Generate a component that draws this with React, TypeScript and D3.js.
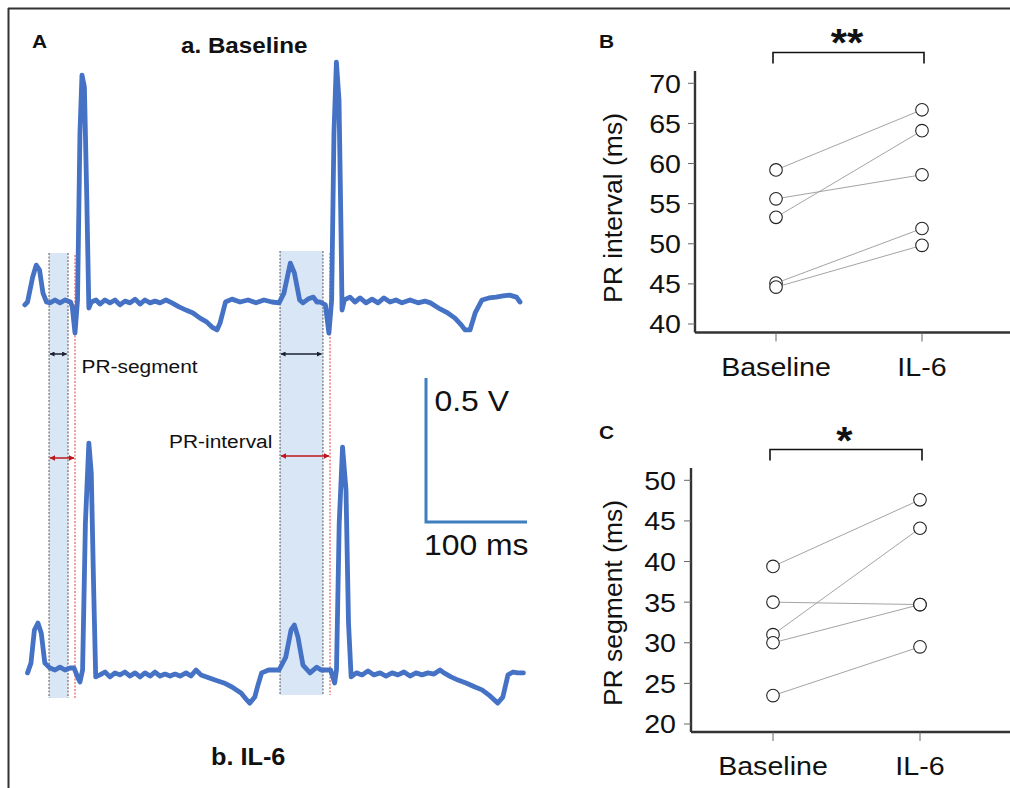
import React from "react";
import * as d3 from "d3";

// ---------- data ----------
const groups = ["Baseline", "IL-6"];
const prIntervalBaseline = [59.2, 55.6, 53.3, 45.1, 44.6];
const prIntervalIL6 = [66.7, 58.6, 64.1, 51.9, 49.8];
const prSegmentBaseline = [39.4, 35.0, 31.0, 30.0, 23.5];
const prSegmentIL6 = [47.6, 34.7, 44.1, 34.7, 29.5];
const prIntervalTicks = [40, 45, 50, 55, 60, 65, 70];
const prSegmentTicks = [20, 25, 30, 35, 40, 45, 50];

// ECG traces: [time (ms), voltage (V)]
const baselineTrace: [number, number][] = [
  [0.8, -0.01], [3.5, 0], [8.6, 0.087], [12.1, 0.128], [15.4, 0.111], [18.8, 0.031], [22.3, 0],
  [25.7, -0.003], [30.7, 0.007], [35.6, -0.003], [40.6, 0.007], [46.1, 0], [47.8, -0.017],
  [50.5, -0.108], [53, 0.007], [55.4, 0.587], [57.4, 0.788], [59.8, 0.747], [62.2, 0.354],
  [64.2, -0.021], [66.6, 0], [71.3, 0.007], [75.2, -0.007], [80.2, 0.007], [85.1, -0.003],
  [90.1, 0.007], [95, -0.01], [100, 0.003], [105, -0.003], [110, 0.01], [114.9, -0.007],
  [119.8, 0.007], [124.8, -0.003], [129.7, 0.003], [134.7, -0.003], [140.6, 0.007], [146.5, -0.003],
  [153.5, -0.017], [160.4, -0.028], [167.3, -0.038], [174.3, -0.056], [180.8, -0.069],
  [186.1, -0.087], [191.1, -0.097], [194.1, -0.073], [199.5, 0], [205.9, 0.01], [213.9, 0],
  [221.8, 0.007], [229.7, -0.003], [237.6, 0.007], [245.5, 0], [252.5, -0.003], [257.4, 0.031],
  [263.7, 0.135], [267.7, 0.101], [272.9, 0.007], [276.2, -0.003], [281.2, 0.01], [286.5, 0.017],
  [290, 0], [293.1, 0], [298.4, -0.01], [301.9, -0.108], [304.6, 0.007], [306.9, 0.587],
  [309.3, 0.833], [311.9, 0.701], [313.9, 0.24], [314.9, -0.028], [317.2, 0.007], [322.8, 0.017],
  [327.7, 0], [332.7, 0.014], [338.6, -0.003], [344.6, 0.01], [350.5, -0.003], [356.4, 0.014],
  [362.4, 0], [368.3, 0.007], [374.3, -0.003], [382.2, 0.007], [390.1, -0.003], [397, 0.003],
  [402.4, -0.003], [411.9, -0.024], [419.5, -0.038], [426.7, -0.056], [433.1, -0.08],
  [436.6, -0.097], [441.6, -0.097], [446.7, -0.038], [453.5, 0.007], [460.4, 0.014],
  [467.3, 0.017], [474.3, 0.021], [480.8, 0.024], [487.6, 0.017], [491.1, 0],
];

const il6Trace: [number, number][] = [
  [3.5, -0.01], [6.9, 0.024], [10.3, 0.139], [13.8, 0.163], [17.1, 0.128], [20.6, 0.024],
  [25.7, 0.007], [30.7, 0], [35.6, 0.01], [40.6, 0], [45.5, 0.007], [49.5, 0.007], [53, -0.024],
  [55.4, -0.042], [58, 0], [60.8, 0.51], [64.2, 0.788], [66.6, 0.684], [69, 0.278], [71, -0.024],
  [75.2, -0.017], [80.2, -0.007], [85.1, -0.024], [90.1, -0.01], [95, -0.017], [100, -0.007],
  [105, -0.021], [110, -0.01], [114.9, -0.024], [119.8, -0.01], [124.8, -0.021], [129.7, -0.007],
  [134.7, -0.021], [139.6, -0.014], [144.6, -0.021], [149.5, -0.014], [154.5, -0.021],
  [160.4, -0.01], [165.3, -0.021], [170.3, 0], [175.2, -0.017], [180.8, -0.024], [189.1, -0.035],
  [198, -0.045], [205.9, -0.059], [214.9, -0.08], [219.8, -0.101], [223.5, -0.115], [228.5, -0.094],
  [231.7, -0.052], [235.3, -0.01], [242.2, 0], [252.5, 0], [259.2, 0.045], [264.4, 0.139],
  [267.7, 0.156], [271.2, 0.115], [276.2, 0.017], [283.2, -0.01], [289.9, 0.01], [294.1, 0],
  [298.4, 0], [303.6, 0], [307.6, -0.045], [309.4, 0], [312.1, 0.51], [315.4, 0.774],
  [318.8, 0.625], [321.3, 0.163], [323.9, -0.024], [329.1, -0.01], [334.7, -0.017],
  [340.6, -0.003], [346.5, -0.017], [352.5, -0.01], [358.4, -0.021], [364.4, -0.01],
  [370.3, -0.017], [376.2, -0.007], [382.2, -0.021], [388.1, -0.01], [394.1, -0.017], [400, -0.01],
  [405.9, -0.014], [411.9, 0], [415.8, -0.01], [422.8, -0.024], [429.7, -0.035], [437.6, -0.045],
  [446.5, -0.059], [453.5, -0.069], [460.4, -0.087], [468.9, -0.115], [474.1, -0.094],
  [479.2, -0.017], [484.2, -0.007], [489.1, -0.01], [494.5, -0.01],
];

// PR windows (ms): P onset, P end, Q onset
const prWindows = [
  { pStart: 24.8, pEnd: 43.6, qOnset: 50.5 },
  { pStart: 253.5, pEnd: 296, qOnset: 303 },
];
const scaleBarMs = 100;
const scaleBarV = 0.5;

// ---------- styles ----------
const FONT = "'Liberation Sans', Arial, Helvetica, sans-serif";
const ECG_BLUE = "#4472c4";
const BAR_BLUE = "#3f7fc0";
const AXIS = "#333";
const SX = 1.1;

function SText({ x, y, size, children, anchor = "start", weight = "normal", dy = "0" }: any) {
  return (
    <text
      transform={`translate(${x},${y}) scale(${SX},1)`}
      fontSize={size}
      fontFamily={FONT}
      fontWeight={weight}
      textAnchor={anchor}
      dy={dy}
      fill="#111"
    >
      {children}
    </text>
  );
}

function PairedPanel({ yScale, xScale, ticks, base, il6, axisX, axisTop, axisY, labelRight, ylabel, ylabelY, stars, bracketTop, starsY, letter, letterY }: any) {
  const [g0, g1] = groups;
  return (
    <g>
      <SText x={599} y={letterY} size={19} weight="bold">{letter}</SText>
      {/* significance bracket */}
      <path
        d={`M${xScale(g0) - 3},${bracketTop + 11} V${bracketTop} H${xScale(g1) + 2} V${bracketTop + 11}`}
        fill="none"
        stroke="#111"
        strokeWidth={1.6}
      />
      <SText x={(xScale(g0) + xScale(g1)) / 2 - 2} y={starsY} size={38} weight="bold" anchor="middle">{stars}</SText>
      {/* axes */}
      <line x1={axisX} x2={axisX} y1={axisTop} y2={axisY} stroke={AXIS} strokeWidth={2.4} />
      <line x1={axisX} x2={1010} y1={axisY} y2={axisY} stroke={AXIS} strokeWidth={2.4} />
      {ticks.map((t: number) => (
        <g key={t}>
          <line x1={axisX - 7} x2={axisX} y1={yScale(t)} y2={yScale(t)} stroke="#666" strokeWidth={1} />
          <SText x={labelRight} y={yScale(t)} size={26} anchor="end" dy="0.36em">{t}</SText>
        </g>
      ))}
      {groups.map((g) => (
        <g key={g}>
          <line x1={xScale(g)} x2={xScale(g)} y1={axisY} y2={axisY + 9} stroke="#666" strokeWidth={1} />
          <SText x={xScale(g)} y={axisY + 43} size={26} anchor="middle">{g}</SText>
        </g>
      ))}
      <text
        transform={`translate(622,${ylabelY}) rotate(-90)`}
        fontSize={26.5}
        fontFamily={FONT}
        textAnchor="middle"
        fill="#111"
      >
        {ylabel}
      </text>
      {/* paired lines */}
      {base.map((b: number, i: number) => (
        <line key={"l" + i} x1={xScale(g0)} y1={yScale(b)} x2={xScale(g1)} y2={yScale(il6[i])} stroke="#9a9a9a" strokeWidth={0.9} />
      ))}
      {base.map((b: number, i: number) => (
        <circle key={"b" + i} cx={xScale(g0)} cy={yScale(b)} r={6.3} fill="#fff" stroke="#222" strokeWidth={1.1} />
      ))}
      {il6.map((v: number, i: number) => (
        <circle key={"i" + i} cx={xScale(g1)} cy={yScale(v)} r={6.3} fill="#fff" stroke="#222" strokeWidth={1.1} />
      ))}
    </g>
  );
}

export default function App() {
  const xT = d3.scaleLinear().domain([0, 500]).range([24, 529]);
  const yTop = d3.scaleLinear().domain([0, 0.5]).range([302, 158]);
  const yBot = d3.scaleLinear().domain([0, 0.5]).range([670, 526]);

  const lineTop = d3.line<[number, number]>().x((d) => xT(d[0])).y((d) => yTop(d[1]));
  const lineBot = d3.line<[number, number]>().x((d) => xT(d[0])).y((d) => yBot(d[1]));

  const yB = d3.scaleLinear().domain([40, 70]).range([324, 83.3]);
  const xB = d3.scalePoint().domain(groups).range([776, 922]);
  const yC = d3.scaleLinear().domain([20, 50]).range([724, 480.3]);
  const xC = d3.scalePoint().domain(groups).range([773, 920]);

  const boxTop = [253, 251];
  const boxBottom = [698, 695];
  const blackArrowY = 354;
  const redArrowY = [458, 456];

  // scale bar
  const sbX0 = 426;
  const sbY0 = 522;
  const sbW = xT(scaleBarMs) - xT(0);
  const sbH = yTop(0) - yTop(scaleBarV);

  return (
    <div style={{ position: "absolute", left: 0, top: 0 }}>
      <svg width={1010} height={788} style={{ display: "block", background: "#fff" }}>
        <defs>
          <marker id="ahBlack" viewBox="0 0 10 10" refX={9} refY={5} markerWidth={5} markerHeight={5} orient="auto-start-reverse" markerUnits="userSpaceOnUse">
            <path d="M0,0 L10,5 L0,10 z" fill="#1a2230" />
          </marker>
          <marker id="ahRed" viewBox="0 0 10 10" refX={9} refY={5} markerWidth={6} markerHeight={6} orient="auto-start-reverse" markerUnits="userSpaceOnUse">
            <path d="M0,0 L10,5 L0,10 z" fill="#c0161c" />
          </marker>
          <filter id="soft" x="-5%" y="-5%" width="110%" height="110%">
            <feGaussianBlur stdDeviation="0.7" />
          </filter>
        </defs>

        {/* frame */}
        <line x1={8} x2={1010} y1={8.5} y2={8.5} stroke="#333" strokeWidth={2} />
        <line x1={8.5} x2={8.5} y1={8} y2={788} stroke="#333" strokeWidth={2} />

        {/* Panel A */}
        <SText x={32} y={48} size={19} weight="bold">A</SText>
        <SText x={181} y={53} size={22} weight="bold">a. Baseline</SText>
        <SText x={211} y={765} size={23} weight="bold">b. IL-6</SText>

        {prWindows.map((w, i) => (
          <g key={i}>
            <rect x={xT(w.pStart)} y={boxTop[i]} width={xT(w.pEnd) - xT(w.pStart)} height={boxBottom[i] - boxTop[i]} fill="#d9e6f5" />
            <line x1={xT(w.pStart)} x2={xT(w.pStart)} y1={boxTop[i]} y2={boxBottom[i]} stroke="#444" strokeWidth={0.9} strokeDasharray="2,1.5" />
            <line x1={xT(w.pEnd)} x2={xT(w.pEnd)} y1={boxTop[i]} y2={boxBottom[i]} stroke="#444" strokeWidth={0.9} strokeDasharray="2,1.5" />
            <line x1={xT(w.qOnset)} x2={xT(w.qOnset)} y1={boxTop[i] + 2} y2={boxBottom[i]} stroke="#e2282a" strokeWidth={0.9} strokeDasharray="2,1.5" />
            <line x1={xT(w.pStart) + 1} x2={xT(w.pEnd) - 1.5} y1={blackArrowY} y2={blackArrowY} stroke="#1a2230" strokeWidth={1.5} markerStart="url(#ahBlack)" markerEnd="url(#ahBlack)" />
            <line x1={xT(w.pStart) + 1} x2={xT(w.qOnset) - 1} y1={redArrowY[i]} y2={redArrowY[i]} stroke="#c0161c" strokeWidth={1.5} markerStart="url(#ahRed)" markerEnd="url(#ahRed)" />
          </g>
        ))}

        <g filter="url(#soft)">
          <path d={lineTop(baselineTrace) || ""} fill="none" stroke={ECG_BLUE} strokeWidth={4.8} strokeLinejoin="round" strokeLinecap="round" />
          <path d={lineBot(il6Trace) || ""} fill="none" stroke={ECG_BLUE} strokeWidth={4.8} strokeLinejoin="round" strokeLinecap="round" />
        </g>

        <SText x={81.5} y={373} size={19}>PR-segment</SText>
        <SText x={169} y={448} size={19}>PR-interval</SText>

        {/* scale bar */}
        <path d={`M${sbX0},${sbY0 - sbH} V${sbY0} H${sbX0 + sbW}`} fill="none" stroke={BAR_BLUE} strokeWidth={3} />
        <SText x={434.5} y={411} size={29}>0.5 V</SText>
        <SText x={424} y={555} size={29}>100 ms</SText>

        {/* Panel B */}
        <PairedPanel
          yScale={yB} xScale={xB} ticks={prIntervalTicks} base={prIntervalBaseline} il6={prIntervalIL6}
          axisX={695} axisTop={71} axisY={332.5} labelRight={681}
          ylabel="PR interval (ms)" ylabelY={208} stars="**" bracketTop={52.5} starsY={56}
          letter="B" letterY={48}
        />
        {/* Panel C */}
        <PairedPanel
          yScale={yC} xScale={xC} ticks={prSegmentTicks} base={prSegmentBaseline} il6={prSegmentIL6}
          axisX={691} axisTop={468} axisY={732} labelRight={676}
          ylabel="PR segment (ms)" ylabelY={603} stars="*" bracketTop={449.5} starsY={454}
          letter="C" letterY={439}
        />
      </svg>
    </div>
  );
}
